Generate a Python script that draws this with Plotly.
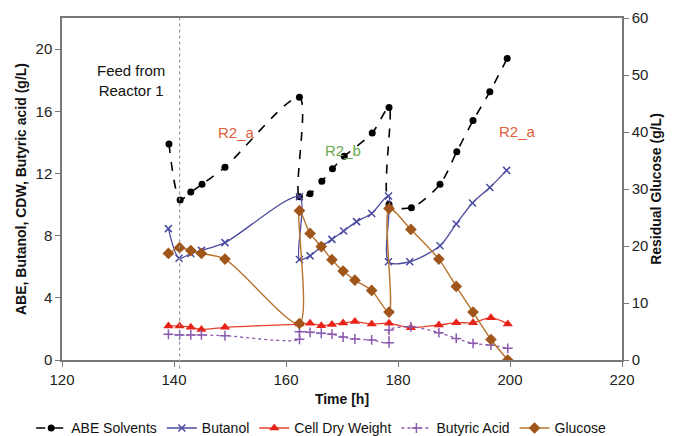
import plotly.graph_objects as go

# ABE Solvents (g/L)
abe_t = [139.1, 141.1, 143.0, 145.0, 149.1, 162.4, 162.4, 164.3, 166.4, 168.3, 170.4,
         175.4, 178.4, 178.4, 182.4, 187.5, 190.5, 193.4, 196.4, 199.5]
abe_v = [13.9, 10.3, 10.8, 11.3, 12.4, 16.9, 10.5, 10.7, 11.5, 12.3, 13.1,
         14.6, 16.25, 10.0, 9.8, 11.3, 13.4, 15.4, 17.25, 19.4]

# Butanol (g/L)
but_t = [139.0, 140.9, 143.0, 144.9, 149.1, 162.4, 162.4, 164.3, 166.3, 168.2, 170.3,
         172.6, 175.3, 178.3, 178.3, 182.1, 187.5, 190.4, 193.3, 196.4, 199.4]
but_v = [8.45, 6.55, 6.85, 7.05, 7.55, 10.5, 6.47, 6.7, 7.3, 7.76, 8.3,
         8.9, 9.43, 10.55, 6.32, 6.32, 7.35, 8.75, 10.1, 11.1, 12.2]

# Cell Dry Weight (g/L)
cdw_t = [139.0, 141.0, 143.0, 144.9, 149.1, 162.4, 164.3, 166.3, 168.2, 170.2,
         172.3, 175.3, 178.4, 182.3, 187.3, 190.4, 193.4, 196.6, 199.6]
cdw_v = [2.19, 2.19, 2.1, 1.97, 2.1, 2.31, 2.36, 2.21, 2.28, 2.38,
         2.47, 2.32, 2.36, 2.08, 2.25, 2.4, 2.4, 2.72, 2.32]

# Butyric Acid (g/L)
bua_t = [139.0, 141.0, 143.0, 144.9, 149.1, 162.4, 162.4, 164.3, 166.3, 168.2, 170.2,
         172.3, 175.3, 178.4, 178.4, 182.3, 187.3, 190.4, 193.4, 196.6, 199.6]
bua_v = [1.65, 1.61, 1.61, 1.61, 1.56, 1.33, 1.82, 1.78, 1.72, 1.66, 1.48,
         1.35, 1.29, 1.11, 1.93, 2.14, 1.76, 1.39, 1.07, 0.96, 0.75]

# Residual Glucose (g/L)
glu_t = [139.0, 141.0, 143.0, 144.9, 149.1, 162.4, 162.4, 164.3, 166.3, 168.2, 170.2,
         172.3, 175.3, 178.4, 178.4, 182.3, 187.3, 190.4, 193.4, 196.6, 199.6]
glu_v = [18.7, 19.7, 19.2, 18.7, 17.7, 6.4, 26.2, 22.2, 19.9, 17.6, 15.6,
         14.0, 12.2, 8.4, 26.6, 22.9, 17.7, 12.9, 8.4, 3.6, 0.0]

FONT = "Liberation Sans, Arial, sans-serif"

fig = go.Figure()
fig.add_trace(go.Scatter(x=abe_t, y=abe_v, name="ABE Solvents", mode="lines+markers",
                         line=dict(color="black", dash="dash", width=1.6, shape="spline", smoothing=0.8),
                         marker=dict(symbol="circle", size=7, color="black")))
fig.add_trace(go.Scatter(x=but_t, y=but_v, name="Butanol", mode="lines+markers",
                         line=dict(color="#4a4aa0", width=1.3, shape="spline", smoothing=0.8),
                         marker=dict(symbol="x-thin", size=7, color="#4a4aa0",
                                     line=dict(color="#4a4aa0", width=1.5))))
fig.add_trace(go.Scatter(x=cdw_t, y=cdw_v, name="Cell Dry Weight", mode="lines+markers",
                         line=dict(color="#e8402a", width=1.3, shape="spline", smoothing=0.8),
                         marker=dict(symbol="triangle-up", size=9, color="#e8231a")))
fig.add_trace(go.Scatter(x=bua_t, y=bua_v, name="Butyric Acid", mode="lines+markers",
                         line=dict(color="#8a5ab0", width=1.3, dash="dot", shape="spline", smoothing=0.8),
                         marker=dict(symbol="cross-thin", size=7, color="#8a5ab0",
                                     line=dict(color="#8a5ab0", width=1.5))))
fig.add_trace(go.Scatter(x=glu_t, y=glu_v, name="Glucose", mode="lines+markers", yaxis="y2",
                         line=dict(color="#b8732e", width=1.4, shape="spline", smoothing=0.8),
                         marker=dict(symbol="diamond", size=9, color="#a0561a")))

fig.add_shape(type="line", x0=141.0, x1=141.0, xref="x", y0=-0.025, y1=1, yref="paper",
              line=dict(color="#999999", width=1.2, dash="dot"))

fig.add_annotation(x=132.3, y=18.0, xref="x", yref="y", text="Feed from<br>Reactor 1",
                   showarrow=False, font=dict(family=FONT, size=15, color="#111111"))
fig.add_annotation(x=151.1, y=14.66, xref="x", yref="y", text="R2_a", showarrow=False,
                   font=dict(family=FONT, size=15, color="#e0603a"))
fig.add_annotation(x=170.2, y=13.5, xref="x", yref="y", text="R2_b", showarrow=False,
                   font=dict(family=FONT, size=15, color="#6aa84f"))
fig.add_annotation(x=201.4, y=14.7, xref="x", yref="y", text="R2_a", showarrow=False,
                   font=dict(family=FONT, size=15, color="#e0603a"))

axis_common = dict(showline=True, linecolor="#777777", linewidth=1.5, ticks="outside",
                   tickcolor="#777777", ticklen=5, showgrid=False, zeroline=False,
                   tickfont=dict(family=FONT, size=15, color="#222222"))

fig.update_layout(
    width=676, height=436,
    margin=dict(l=62, r=54, t=18, b=76, autoexpand=False),
    plot_bgcolor="white", paper_bgcolor="white",
    font=dict(family=FONT, color="#111111"),
    xaxis=dict(range=[120, 220], dtick=20, mirror=True, **axis_common,
               title=dict(text="<b>Time [h]</b>", font=dict(family=FONT, size=14), standoff=7)),
    yaxis=dict(range=[0, 22], tickvals=[0, 4, 8, 12, 16, 20], **axis_common,
               title=dict(text="<b>ABE, Butanol, CDW, Butyric acid (g/L)</b>",
                          font=dict(family=FONT, size=14), standoff=6)),
    yaxis2=dict(range=[0, 60], dtick=10, overlaying="y", side="right", **axis_common,
                title=dict(text="<b>Residual Glucose (g/L)</b>",
                           font=dict(family=FONT, size=14), standoff=4)),
    legend=dict(orientation="h", x=-0.055, xanchor="left", y=-0.2, yanchor="middle",
                font=dict(family=FONT, size=14, color="#111111"), itemwidth=30,
                tracegroupgap=0, bgcolor="rgba(0,0,0,0)"),
    showlegend=True,
)

fig.write_html("out.html")
